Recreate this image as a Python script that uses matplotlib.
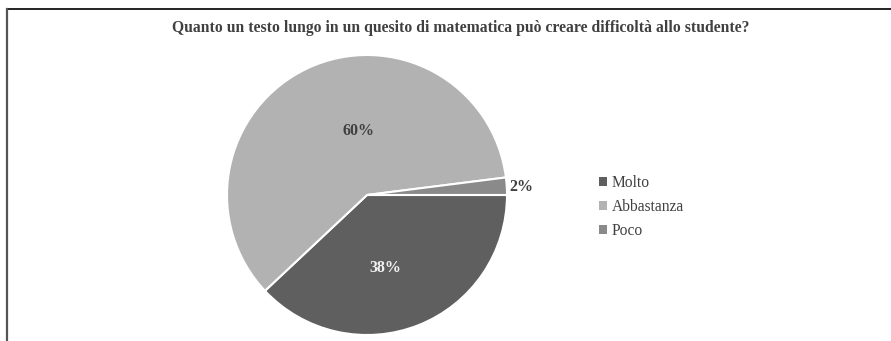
import matplotlib.pyplot as plt
from matplotlib.lines import Line2D
from matplotlib.patches import Patch

title = "Quanto un testo lungo in un quesito di matematica può creare difficoltà allo studente?"
categories = ["Molto", "Abbastanza", "Poco"]
percent = [38, 60, 2]
colors = ["#5f5f5f", "#b2b2b2", "#8a8a8a"]
text_colors = ["#f2f2f2", "#404040", "#404040"]
# where each percentage sits, in pie units
label_pos = [(0.13, -0.52), (-0.06, 0.46), (1.1, 0.06)]

plt.rcParams['font.family'] = ['Liberation Serif', 'DejaVu Serif']

W, H = 891, 341
fig = plt.figure(figsize=(W / 100, H / 100), dpi=100)

cx, cy, r = 367, 195, 140
ax = fig.add_axes([(cx - r) / W, (H - cy - r) / H, 2 * r / W, 2 * r / H])
wedges, _ = ax.pie(percent, colors=colors, startangle=0, counterclock=False,
                   wedgeprops=dict(edgecolor="white", linewidth=1.5))
ax.set_xlim(-1, 1)
ax.set_ylim(-1, 1)
ax.set_aspect("equal")

for v, (x, y), c in zip(percent, label_pos, text_colors):
    ax.text(x, y, f"{v}%", ha="center", va="center", fontsize=11.5,
            fontweight="bold", color=c)

fig.text(461 / W, 1 - 28 / H, title, ha="center", va="center", fontsize=11.3,
         fontweight="bold", color="#404040")

handles = [Patch(facecolor=c, edgecolor="none") for c in colors]
fig.legend(handles, categories, loc="center left",
           bbox_to_anchor=(585 / W, 1 - 207 / H), frameon=False,
           fontsize=11.2, handlelength=0.5, handleheight=0.5,
           handletextpad=0.3, labelspacing=0.5, labelcolor="#404040")

# frame lines along the top and left edge
fig.add_artist(Line2D([7 / W, 1], [1 - 9 / H, 1 - 9 / H], color="#222222",
                      linewidth=1.4, transform=fig.transFigure))
fig.add_artist(Line2D([7 / W, 7 / W], [0, 1 - 9 / H], color="#555555",
                      linewidth=1.6, transform=fig.transFigure))

fig.savefig("out.png", dpi=100)
